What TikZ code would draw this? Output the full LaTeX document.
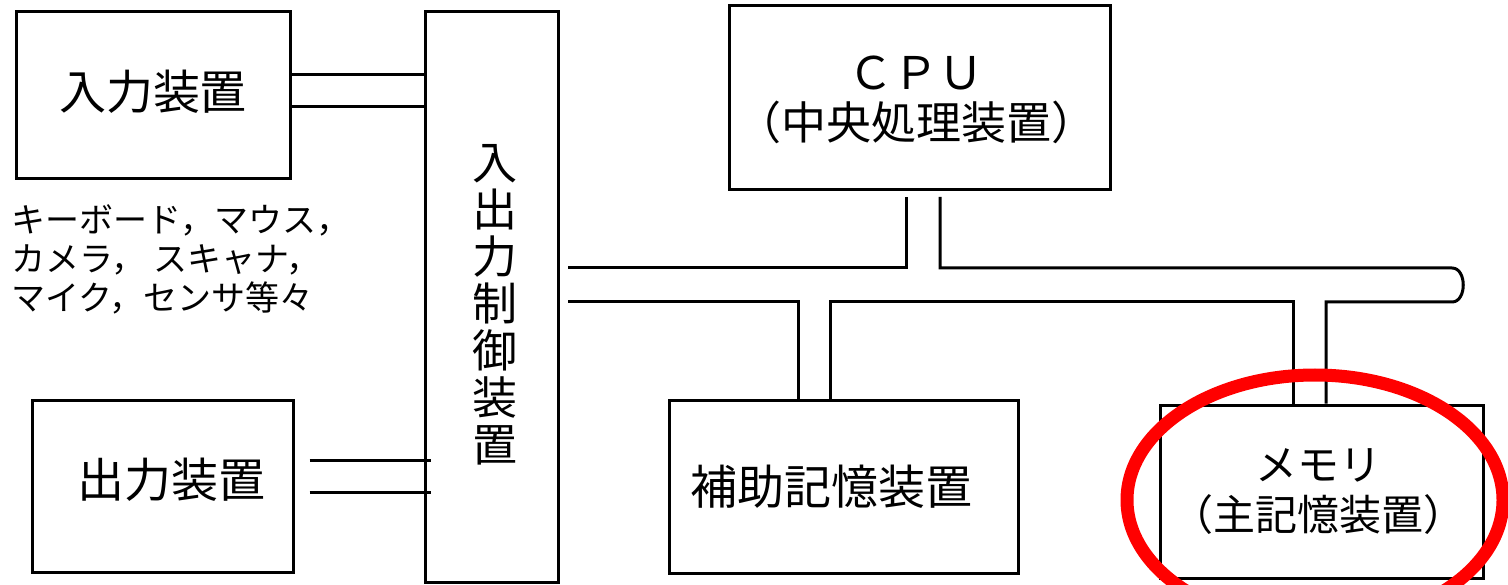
\documentclass[tikz,border=0pt]{standalone}
\usepackage{fontspec}
\newfontfamily\jp{Noto Sans CJK JP}
\usetikzlibrary{calc}
\begin{document}
\begin{tikzpicture}[x=1pt,y=-1pt,line width=3pt,
  box/.style n args={2}{draw,line width=3pt,inner sep=0pt,minimum width=#1pt,minimum height=#2pt},
  lbl/.style={font=\jp\fontsize{47}{50}\selectfont,inner sep=0pt,align=center},
  small/.style={font=\jp\fontsize{34}{39}\selectfont,inner sep=0pt,align=left},
  vert/.style={font=\jp\fontsize{45}{47}\selectfont,inner sep=0pt,align=center},
  wire/.style={draw,line width=3pt},
  redring/.style={draw=red,line width=13pt}]
\useasboundingbox (0,0) rectangle (1508,585);
\fill[white] (0,0) rectangle (1508,585);
\clip (0,0) rectangle (1508,585);
% boxes
\node[box={274}{167}] (in) at (153,95.5) {};
\node[box={133}{570}] (io) at (491.5,297) {};
\node[box={261}{172}] (out) at (162.5,486) {};
\node[box={381}{184}] (cpu) at (919.5,98) {};
\node[box={349}{173}] (aux) at (843.5,486.5) {};
\node[box={323}{173}] (mem) at (1321.5,491.5) {};
% texts
\node[lbl] (intx) at (153,92) {入力装置};
\node[lbl] (outtx) at (171,480) {出力装置};
\node[vert] (iotx) at (495,305) {入\\出\\力\\制\\御\\装\\置};
\node[lbl,font=\jp\fontsize{45}{50}\selectfont] (cputx) at (916,100) {ＣＰＵ\\（中央処理装置）};
\node[lbl] (auxtx) at (831,487) {補助記憶装置};
\node[lbl,font=\jp\fontsize{42}{50}\selectfont] (memtx) at (1318,492) {メモリ\\（主記憶装置）};
\node[small,anchor=north west] (kb) at (10,203) {キーボード，マウス，\\カメラ， スキャナ，\\マイク，センサ等々};
% coordinates for wires
\coordinate (y1) at (0,75);
\coordinate (y2) at (0,107);
\coordinate (y3) at (0,460);
\coordinate (y4) at (0,492);
\coordinate (bu) at (0,268);
\coordinate (bd) at (0,302);
\coordinate (bl) at (568,0);
\coordinate (cl) at (906,197);
\coordinate (cr) at (940,197);
\coordinate (al) at (798,0);
\coordinate (ar) at (830,0);
\coordinate (ml) at (1293,0);
\coordinate (mr) at (1326,0);
\coordinate (be) at (1452,0);
% input <-> io
\draw[wire] (in.east |- y1) -- (io.west |- y1);
\draw[wire] (in.east |- y2) -- (io.west |- y2);
% output <-> io
\draw[wire] ($(out.east |- y3)+(15,0)$) -- ($(io.west |- y3)+(7,0)$);
\draw[wire] ($(out.east |- y4)+(15,0)$) -- ($(io.west |- y4)+(7,0)$);
% bus
\draw[wire] (bl |- bu) -- (cl |- bu) -- (cl);
\draw[wire] (cr) -- (cr |- bu) -- (be |- bu) .. controls ($(be |- bu)+(15,0)$) and ($(be |- bd)+(15,0)$) .. (be |- bd) -- (mr |- bd) -- (mr |- mem.north);
\draw[wire] (ml |- mem.north) -- (ml |- bd) -- (ar |- bd) -- (ar |- aux.north);
\draw[wire] (al |- aux.north) -- (al |- bd) -- (bl |- bd);
% red highlight
\draw[redring] (1315,500) ellipse [x radius=188pt,y radius=125pt];
\end{tikzpicture}
\end{document}
